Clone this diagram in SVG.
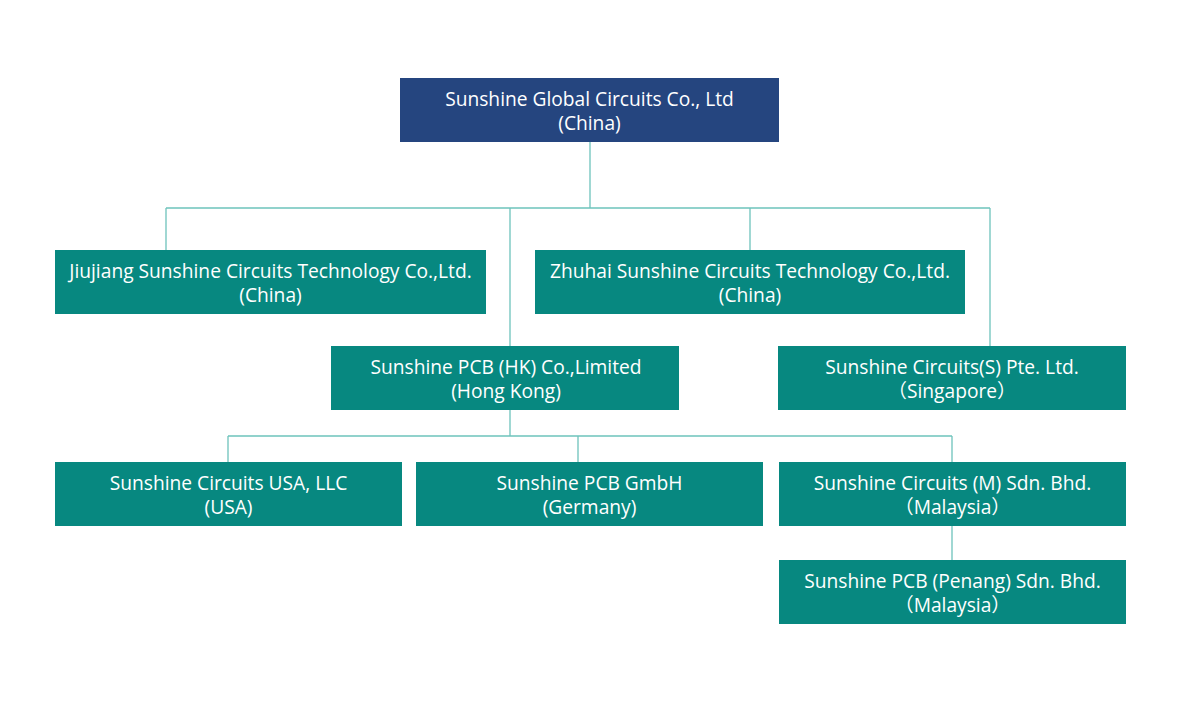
<svg xmlns="http://www.w3.org/2000/svg" width="1180" height="702" viewBox="0 0 1180 702">
<style>
.box{fill:#078880}
.top{fill:#25457f}
.t{font-family:"Open Sans","Noto Sans","Noto Sans CJK SC",sans-serif;font-size:19.2px;fill:#ffffff;text-anchor:middle}
.c{fill:none;stroke:#6ec3bc;stroke-width:1.3}
</style>
<rect width="1180" height="702" fill="#ffffff"/>
<g id="connectors">
<path class="c" d="M590 142V208M166 208H990M166 208V250M510 208V346M750 208V250M990 208V346"/>
<path class="c" d="M510 410V436M228 436H952M228 436V462M578 436V462M952 436V462M952 526V560"/>
</g>
<g id="n-global"><rect class="top" x="400" y="78" width="379" height="64"/><text class="t" x="589.5" y="106">Sunshine Global Circuits Co., Ltd</text><text class="t" x="589.5" y="130">(China)</text></g>
<g id="n-jiujiang"><rect class="box" x="55" y="250" width="431" height="64"/><text class="t" x="270.5" y="278">Jiujiang Sunshine Circuits Technology Co.,Ltd.</text><text class="t" x="270.5" y="302">(China)</text></g>
<g id="n-zhuhai"><rect class="box" x="535" y="250" width="430" height="64"/><text class="t" x="750" y="278">Zhuhai Sunshine Circuits Technology Co.,Ltd.</text><text class="t" x="750" y="302">(China)</text></g>
<g id="n-hk"><rect class="box" x="331" y="346" width="348" height="64"/><text class="t" x="506" y="374">Sunshine PCB (HK) Co.,Limited</text><text class="t" x="506" y="398">(Hong Kong)</text></g>
<g id="n-sg"><rect class="box" x="778" y="346" width="348" height="64"/><text class="t" x="952" y="374">Sunshine Circuits(S) Pte. Ltd.</text><text class="t" x="952" y="398">（Singapore）</text></g>
<g id="n-usa"><rect class="box" x="55" y="462" width="347" height="64"/><text class="t" x="228.5" y="490">Sunshine Circuits USA, LLC</text><text class="t" x="228.5" y="514">(USA)</text></g>
<g id="n-de"><rect class="box" x="416" y="462" width="347" height="64"/><text class="t" x="589.5" y="490">Sunshine PCB GmbH</text><text class="t" x="589.5" y="514">(Germany)</text></g>
<g id="n-my"><rect class="box" x="779" y="462" width="347" height="64"/><text class="t" x="952.5" y="490">Sunshine Circuits (M) Sdn. Bhd.</text><text class="t" x="952.5" y="514">（Malaysia）</text></g>
<g id="n-penang"><rect class="box" x="779" y="560" width="347" height="64"/><text class="t" x="952.5" y="588">Sunshine PCB (Penang) Sdn. Bhd.</text><text class="t" x="952.5" y="612">（Malaysia）</text></g>
</svg>
